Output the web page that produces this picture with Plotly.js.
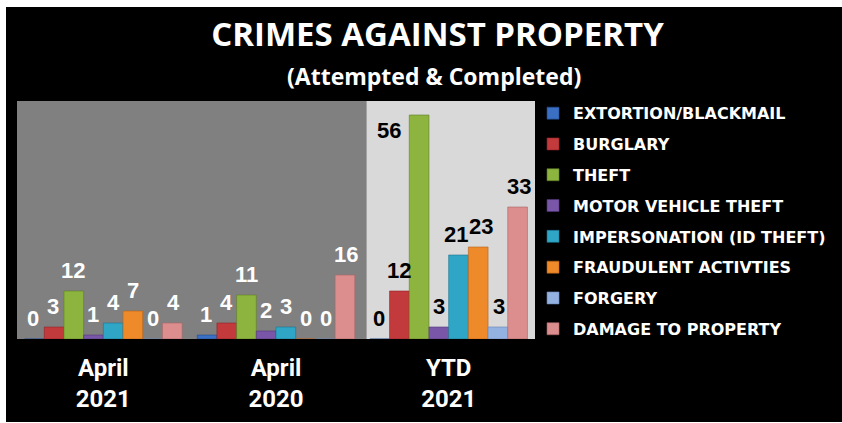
<!DOCTYPE html>
<html>
<head>
<meta charset="utf-8">
<script src="https://cdn.plot.ly/plotly-3.0.1.min.js"></script>
<style>
  html, body { margin: 0; padding: 0; background: #ffffff; width: 842px; height: 423px; overflow: hidden; }
  #chart { position: absolute; left: 6px; top: 7px; width: 836px; height: 415px; }
</style>
</head>
<body>
<div id="chart"></div>
<script>
// ---- data ----
const categories = ["April<br>2021", "April<br>2020", "YTD<br>2021"];
const seriesNames = [
  "EXTORTION/BLACKMAIL",
  "BURGLARY",
  "THEFT",
  "MOTOR VEHICLE THEFT",
  "IMPERSONATION (ID THEFT)",
  "FRAUDULENT ACTIVTIES",
  "FORGERY",
  "DAMAGE TO PROPERTY"
];
const extortion     = [0, 1, 0];
const burglary      = [3, 4, 12];
const theft         = [12, 11, 56];
const motorVehicle  = [1, 2, 3];
const impersonation = [4, 3, 21];
const fraudulent    = [7, 0, 23];
const forgery       = [0, 0, 3];
const damage        = [4, 16, 33];
const seriesValues = [extortion, burglary, theft, motorVehicle, impersonation, fraudulent, forgery, damage];
const seriesColors = ["#3a6fc4", "#c33a3c", "#8cb43e", "#7a56a8", "#2fa6c6", "#ee8a2a", "#93b2e2", "#dc8e8e"];
const lineColors   = ["#234a8c", "#8e2426", "#5f7e26", "#533878", "#1c7391", "#b5611a", "#6884b4", "#a86464"];

// ---- layout geometry ----
const W = 836, H = 415;
const M = {l: 11, r: 299, t: 94, b: 83};
const plotW = W - M.l - M.r, plotH = H - M.t - M.b;
const yMax = 59.5;
const bargap = 0.0875;
const nCat = categories.length, nSer = seriesNames.length;
const barPx = (plotW / nCat) * (1 - bargap) / nSer;
const pxPerUnit = plotH / yMax;
const labelSize = 22;
const labelH = 24;

const traces = seriesNames.map((name, i) => ({
  type: "bar",
  name: name,
  legendgroup: "g" + i,
  x: categories,
  y: seriesValues[i],
  marker: {color: seriesColors[i], line: {color: lineColors[i], width: 0.6}},
  hoverinfo: "skip"
}));

// value labels, computed from the data through the axis scale
const labelFont = "Liberation Sans, Arial, sans-serif";
const annotations = [];
for (let j = 0; j < nCat; j++) {
  const items = seriesValues.map((vals, i) => {
    const v = vals[j];
    const tooHigh = v * pxPerUnit + 30 > plotH;
    const w = String(v).length * 0.556 * labelSize;
    const cx = (i - (nSer - 1) / 2) * barPx + (tooHigh ? -30 : 0);
    const bottom = tooHigh ? v * pxPerUnit - labelH : v * pxPerUnit + 7;
    return {i, v, tooHigh, w, cx, bottom};
  });
  // push apart neighbouring labels that would collide
  for (let k = 0; k + 1 < items.length; k++) {
    const a = items[k], b = items[k + 1];
    if (a.tooHigh || b.tooHigh) continue;
    const vOverlap = Math.min(a.bottom, b.bottom) + labelH > Math.max(a.bottom, b.bottom);
    const need = (a.w + b.w) / 2 + 1 - (b.cx - a.cx);
    if (vOverlap && need > 0) { a.cx -= need / 2; b.cx += need / 2; }
  }
  items.forEach(it => {
    annotations.push({
      x: categories[j], y: it.v, xref: "x", yref: "y",
      text: "<b>" + it.v + "</b>",
      showarrow: false, borderpad: 0,
      xshift: it.cx,
      yanchor: it.tooHigh ? "top" : "bottom",
      yshift: it.tooHigh ? -2 : 7,
      font: {family: labelFont, size: labelSize, color: j === 2 ? "#000000" : "#ffffff"}
    });
  });
}
annotations.push({
  xref: "paper", yref: "paper", x: (434.5 - M.l) / plotW, y: (H - M.b - 69) / plotH,
  xanchor: "center", yanchor: "middle", showarrow: false,
  text: "<b>(Attempted &amp; Completed)</b>",
  font: {family: "Open Sans, sans-serif", size: 23, color: "#ffffff"}
});

const layout = {
  width: W, height: H,
  margin: M,
  paper_bgcolor: "#000000",
  plot_bgcolor: "#808080",
  barmode: "group",
  bargap: bargap,
  bargroupgap: 0,
  title: {
    text: "<b>CRIMES AGAINST PROPERTY</b>",
    x: 431.5 / W, xanchor: "center", xref: "container",
    y: 1 - 27 / H, yanchor: "middle", yref: "container",
    font: {family: "Open Sans, sans-serif", size: 33, color: "#ffffff"}
  },
  xaxis: {
    type: "category",
    range: [-0.5, 2.5],
    showgrid: false, zeroline: false, showline: false, ticks: "",
    ticklabelstandoff: 12,
    tickfont: {family: "Roboto, sans-serif", size: 24, color: "#ffffff", weight: "bold"},
    fixedrange: true
  },
  yaxis: {
    range: [0, yMax], visible: false, fixedrange: true
  },
  shapes: [{
    type: "rect", xref: "paper", yref: "paper", layer: "below",
    x0: (372 - 17) / plotW, x1: 1, y0: 0, y1: 1,
    fillcolor: "#d9d9d9", line: {width: 0}
  }],
  legend: {
    x: (541 - 6 - M.l) / plotW, xanchor: "left",
    y: 1.02, yanchor: "top",
    maxheight: 330,
    bgcolor: "rgba(0,0,0,0)",
    font: {family: "DejaVu Sans, sans-serif", size: 16, color: "#ffffff", weight: "bold"},
    tracegroupgap: 7,
    traceorder: "grouped"
  },
  annotations: annotations,
  showlegend: true
};

Plotly.newPlot("chart", traces, layout, {displayModeBar: false, staticPlot: true});
</script>
</body>
</html>
